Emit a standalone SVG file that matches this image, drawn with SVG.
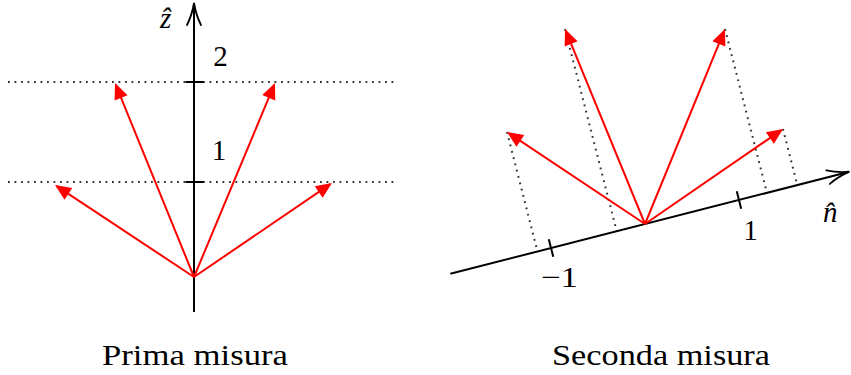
<svg xmlns="http://www.w3.org/2000/svg" width="851" height="375" viewBox="0 0 851 375">
<style>
.ax{stroke:#000;stroke-width:2;fill:none}
.head{stroke:#000;stroke-width:1.8;fill:none;stroke-linecap:round}
.vec{stroke:#ff0000;stroke-width:2;fill:none}
.dot{stroke:#333;stroke-width:2;fill:none;stroke-dasharray:1.8 4.7}
.t{font-size:29px;fill:#000}
.m{font-style:italic}
</style>
<defs>
<marker id="rh" markerUnits="userSpaceOnUse" viewBox="-18 -9 20 18" markerWidth="20" markerHeight="18" refX="-2" refY="0" orient="auto">
<path d="M0,0 L-16,-7 L-16,7 Z" fill="#ff0000"/>
</marker>
<path id="oh" d="M-22,-7 C-14,-3 -5,-0.8 0,0 C-5,0.8 -14,3 -22,7"/>
</defs>
<rect width="851" height="375" fill="#fff"/>

<g font-family="Liberation Serif, Times New Roman, serif">
<g id="left-figure">
<g id="guides-left">
<line class="dot" x1="8" y1="82" x2="395" y2="82"/>
<line class="dot" x1="8" y1="182" x2="395" y2="182"/>
</g>
<g id="z-axis">
<line class="ax" x1="194" y1="312" x2="194" y2="4"/>
<use href="#oh" class="head" transform="translate(194,3) rotate(-90)"/>
<line class="ax" x1="185.5" y1="82" x2="203.5" y2="82"/>
<line class="ax" x1="185.5" y1="182" x2="203.5" y2="182"/>
<text class="t m" x="160" y="28">ẑ</text>
<text class="t" x="220.5" y="66" text-anchor="middle">2</text>
<text class="t" x="219" y="160" text-anchor="middle">1</text>
</g>
<g id="vectors-left">
<line class="vec" x1="194" y1="277" x2="56.7" y2="186.1" marker-end="url(#rh)"/>
<line class="vec" x1="194" y1="277" x2="115.8" y2="84.9" marker-end="url(#rh)"/>
<line class="vec" x1="194" y1="277" x2="274.2" y2="84.8" marker-end="url(#rh)"/>
<line class="vec" x1="194" y1="277" x2="330.3" y2="184.1" marker-end="url(#rh)"/>
</g>
<text id="caption-left" class="t" x="102" y="365" textLength="186" lengthAdjust="spacingAndGlyphs">Prima misura</text>
</g>

<g id="right-figure">
<g id="projections">
<line class="dot" x1="507" y1="132" x2="537.5" y2="251.5"/>
<line class="dot" x1="565" y1="29" x2="616.7" y2="231.2"/>
<line class="dot" x1="725" y1="29" x2="766.9" y2="192.8"/>
<line class="dot" x1="783" y1="129" x2="797.3" y2="185.1"/>
</g>
<g id="n-axis">
<line class="ax" x1="450.3" y1="273.8" x2="848.4" y2="172"/>
<use href="#oh" class="head" transform="translate(849.4,171.7) rotate(-14.34)"/>
<line class="ax" x1="548.8" y1="239.3" x2="553.2" y2="256.7"/>
<line class="ax" x1="736.8" y1="191.3" x2="741.2" y2="208.7"/>
<text class="t" x="559.5" y="287" text-anchor="middle" textLength="37" lengthAdjust="spacingAndGlyphs">−1</text>
<text class="t" x="750.5" y="240" text-anchor="middle">1</text>
<text class="t m" x="823" y="222">n̂</text>
</g>
<g id="vectors-right">
<line class="vec" x1="645" y1="224" x2="508.7" y2="133.1" marker-end="url(#rh)"/>
<line class="vec" x1="645" y1="224" x2="565.8" y2="30.9" marker-end="url(#rh)"/>
<line class="vec" x1="645" y1="224" x2="724.2" y2="30.9" marker-end="url(#rh)"/>
<line class="vec" x1="645" y1="224" x2="781.4" y2="130.1" marker-end="url(#rh)"/>
</g>
<text id="caption-right" class="t" x="552" y="365" textLength="218" lengthAdjust="spacingAndGlyphs">Seconda misura</text>
</g>
</g>
</svg>
